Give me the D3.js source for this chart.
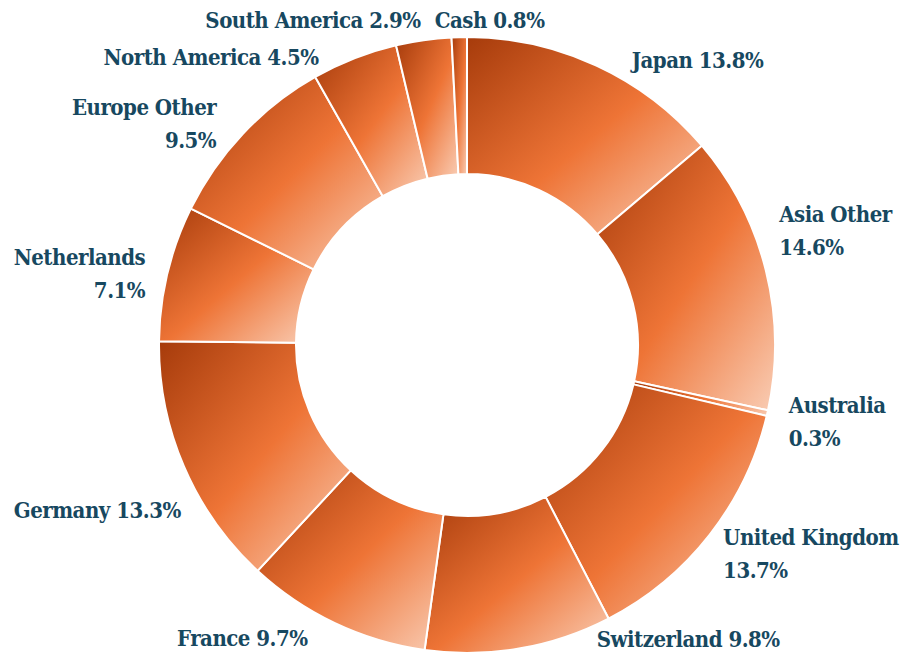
<!DOCTYPE html>
<html>
<head>
<meta charset="utf-8">
<script src="https://cdn.jsdelivr.net/npm/d3@7"></script>
<style>
  html, body { margin: 0; padding: 0; background: #ffffff; }
  svg { display: block; }
  .lbl { font-family: 'DejaVu Serif Condensed', 'DejaVu Serif', serif; font-stretch: condensed; font-weight: bold; fill: #174860; letter-spacing: -0.5px; }
</style>
</head>
<body>
<div id="chart"></div>
<script>
// ---- data ----
const categories = ["Japan", "Asia Other", "Australia", "United Kingdom", "Switzerland", "France",
                    "Germany", "Netherlands", "Europe Other", "North America", "South America", "Cash"];
const values = [13.8, 14.6, 0.3, 13.7, 9.8, 9.7, 13.3, 7.1, 9.5, 4.5, 2.9, 0.8];
// label lines (how each label is broken)
const labelLines = [
  ["Japan 13.8%"], ["Asia Other", "14.6%"], ["Australia", "0.3%"], ["United Kingdom", "13.7%"],
  ["Switzerland 9.8%"], ["France 9.7%"], ["Germany 13.3%"], ["Netherlands", "7.1%"],
  ["Europe Other", "9.5%"], ["North America 4.5%"], ["South America 2.9%"], ["Cash 0.8%"]
];

// ---- layout ----
const W = 908, H = 653;
const cx = 467, cy = 345, R = 308, r = 171;
const labelRadius = 330;
const lineGap = 33;
// label anchor side and nudges (layout only)
const labelAnchor = ["start","start","start","start","start","end","end","end","end","end","end","start"];
const labelNudge = [[26,22],[-8,-43],[0,-5],[-4,-3],[74,-23],[-18,3],[17,43],[-1,-3],[-11,-3],[-28,27],[0,10],[-24,13]];

const data = categories.map((c, i) => ({ name: c, value: values[i], lines: labelLines[i], i }));

const svg = d3.select("#chart").append("svg").attr("width", W).attr("height", H);

const defs = svg.append("defs");
const grad = defs.append("linearGradient")
  .attr("id", "sliceGrad")
  .attr("x1", 0).attr("y1", 0).attr("x2", 1).attr("y2", 1);
grad.append("stop").attr("offset", "0%").attr("stop-color", "#a63b0b");
grad.append("stop").attr("offset", "52%").attr("stop-color", "#ee7436");
grad.append("stop").attr("offset", "100%").attr("stop-color", "#f9cdb5");

const pie = d3.pie().value(d => d.value).sort(null);
const arc = d3.arc().innerRadius(r).outerRadius(R);
const arcs = pie(data);

const g = svg.append("g").attr("transform", `translate(${cx},${cy})`);
g.selectAll("path.slice")
  .data(arcs)
  .join("path")
  .attr("class", "slice")
  .attr("d", arc)
  .attr("fill", "url(#sliceGrad)")
  .attr("stroke", "#ffffff")
  .attr("stroke-width", 2)
  .attr("stroke-linejoin", "round");

const labelArc = d3.arc().innerRadius(labelRadius).outerRadius(labelRadius);
const lg = g.selectAll("text.lbl")
  .data(arcs)
  .join("text")
  .attr("class", "lbl")
  .attr("font-size", 22)
  .attr("text-anchor", d => labelAnchor[d.data.i])
  .attr("transform", d => {
    const [x, y] = labelArc.centroid(d);
    const n = labelNudge[d.data.i];
    return `translate(${x + n[0]},${y + n[1]})`;
  });
lg.selectAll("tspan")
  .data(d => d.data.lines)
  .join("tspan")
  .attr("x", 0)
  .attr("y", (d, k) => k * lineGap)
  .text(d => d);
</script>
</body>
</html>
